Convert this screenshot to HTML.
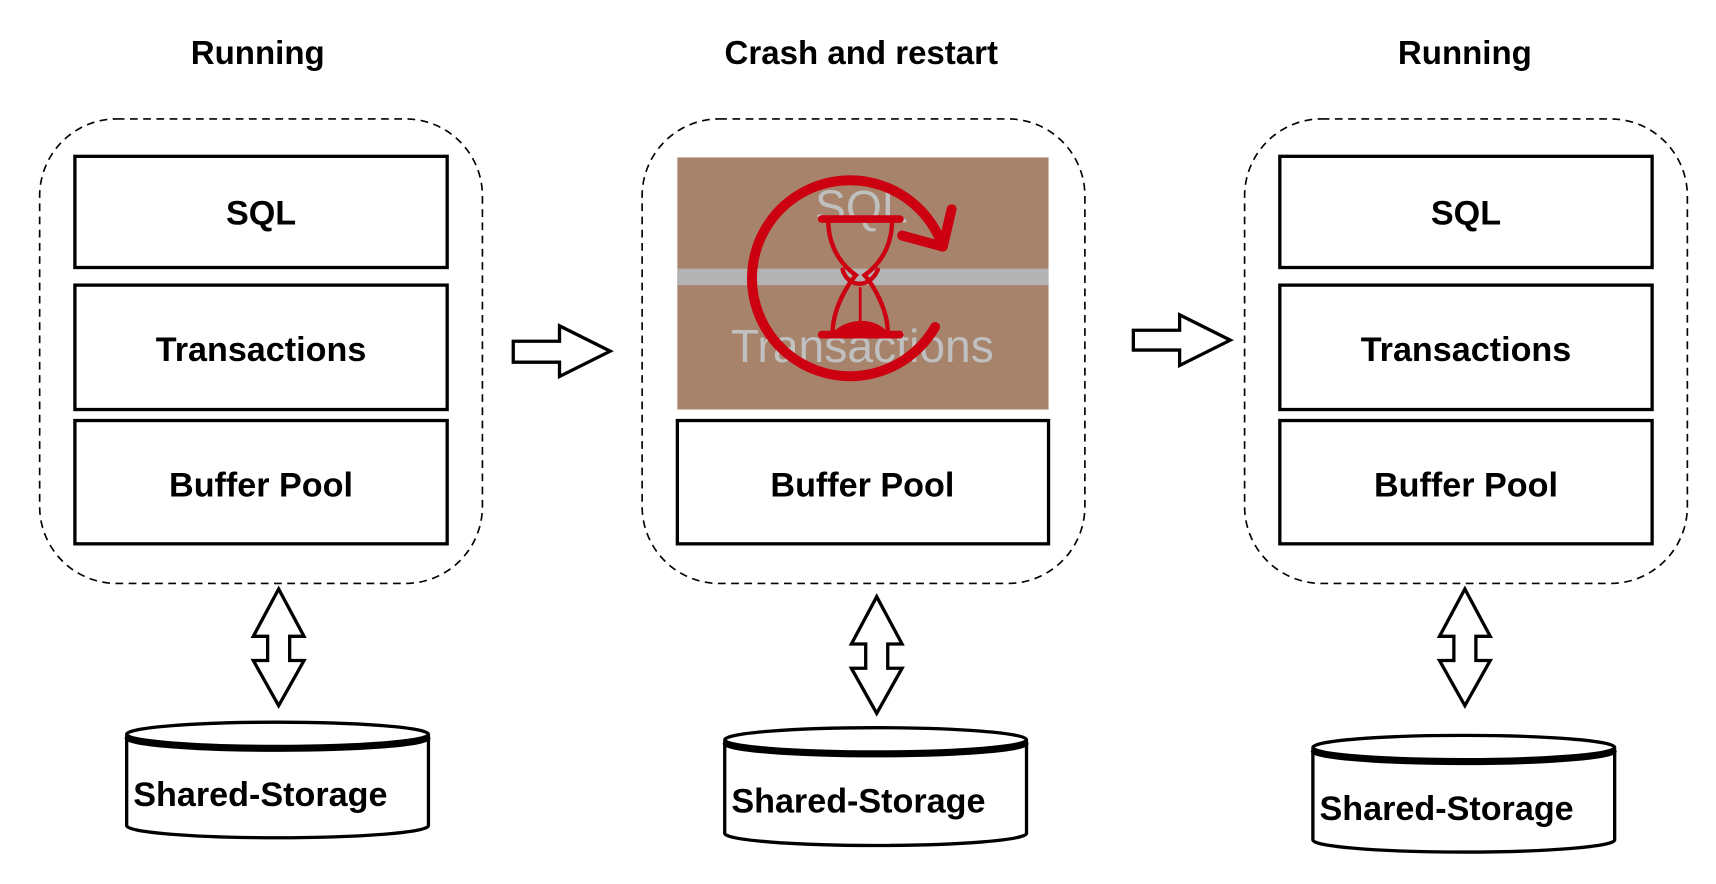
<!DOCTYPE html>
<html><head><meta charset="utf-8"><style>
html,body{margin:0;padding:0;background:#fff;width:1716px;height:884px;overflow:hidden}
svg{display:block}
text{font-family:"Liberation Sans",Arial,sans-serif}
</style></head><body>
<svg width="1716" height="884" viewBox="0 0 1558 803" preserveAspectRatio="none" xmlns="http://www.w3.org/2000/svg">
<g font-weight="bold" font-size="30" text-anchor="middle" fill="#000">
<text x="234" y="58">Running</text>
<text x="782" y="58">Crash and restart</text>
<text x="1330" y="58">Running</text>
</g>
<g fill="none" stroke="#000" stroke-width="1.5" stroke-dasharray="7,5">
<rect x="36" y="108" width="402" height="422" rx="70"/>
<rect x="583" y="108" width="402" height="422" rx="70"/>
<rect x="1130" y="108" width="402" height="422" rx="70"/>
</g>
<g fill="#fff" stroke="#000" stroke-width="3">
<rect x="68" y="142" width="338" height="101"/>
<rect x="68" y="259" width="338" height="113"/>
<rect x="68" y="382" width="338" height="112"/>
<rect x="615" y="382" width="337" height="112"/>
<rect x="1162" y="142" width="338" height="101"/>
<rect x="1162" y="259" width="338" height="113"/>
<rect x="1162" y="382" width="338" height="112"/>
</g>
<g font-weight="bold" font-size="31" text-anchor="middle">
<text x="237" y="204">SQL</text>
<text x="237" y="328">Transactions</text>
<text x="237" y="451">Buffer Pool</text>
<text x="783" y="451">Buffer Pool</text>
<text x="1331" y="204">SQL</text>
<text x="1331" y="328">Transactions</text>
<text x="1331" y="451">Buffer Pool</text>
</g>
<rect x="615" y="143" width="337" height="229" fill="#a6836a"/>
<rect x="615" y="244" width="337" height="15" fill="#b3b3b3"/>
<g fill="#c0c0c0" font-size="42" text-anchor="middle">
<text x="782" y="202">SQL</text>
<text x="783" y="329">Transactions</text>
</g>
<g fill="none" stroke="#cc0011" stroke-width="9" stroke-linecap="round" stroke-linejoin="round">
<path d="M849 297 A89 89 0 1 1 856 224"/>
<path d="M864 190 L856 224 L819 214"/>
</g>
<g fill="none" stroke="#cc0011" stroke-linecap="round">
<line x1="746" y1="199" x2="817" y2="199" stroke-width="7"/>
<line x1="746" y1="304" x2="817" y2="304" stroke-width="7"/>
<path d="M752 200 C752 230 770 245 777 250 C770 258 756 280 756 302 M810 200 C810 230 792 245 785 250 C792 258 806 280 806 302" stroke-width="4"/>
<path d="M765 245 C770 262 790 262 797 245" stroke-width="4"/>
<line x1="781" y1="262" x2="781" y2="292" stroke-width="2.5"/>
</g>
<path d="M756 302 C770 288 795 288 806 302 Z" fill="#cc0011"/>
<g fill="#fff" stroke="#000" stroke-width="3" stroke-linejoin="miter">
<path d="M466 310 L508 310 L508 296 L554 319 L508 342 L508 329 L466 329 Z"/>
<path d="M1029 300 L1071 300 L1071 286 L1117 309 L1071 332 L1071 318 L1029 318 Z"/>
<path d="M253 535 L276 578 L263 578 L263 600 L276 600 L253 641 L230 600 L243 600 L243 578 L230 578 Z"/>
<path d="M796 542 L819 585 L806 585 L806 607 L819 607 L796 648 L773 607 L786 607 L786 585 L773 585 Z"/>
<path d="M1330 535 L1353 578 L1340 578 L1340 600 L1353 600 L1330 641 L1307 600 L1320 600 L1320 578 L1307 578 Z"/>
</g>
<g fill="#fff" stroke="#000" stroke-width="3">
<path d="M115 668 L115 750 A137 11 0 0 0 389 750 L389 668"/>
<ellipse cx="252" cy="667" rx="137" ry="11"/>
<path d="M658 673 L658 757 A137 11 0 0 0 932 757 L932 673"/>
<ellipse cx="795" cy="672" rx="137" ry="11"/>
<path d="M1192 680 L1192 763 A137 11 0 0 0 1466 763 L1466 680"/>
<ellipse cx="1329" cy="679" rx="137" ry="11"/>
</g>
<g fill="none" stroke="#000" stroke-width="4">
<path d="M115 670 A137 11 0 0 0 389 670"/>
<path d="M658 675 A137 11 0 0 0 932 675"/>
<path d="M1192 682 A137 11 0 0 0 1466 682"/>
</g>
<g font-weight="bold" font-size="31">
<text x="121" y="732">Shared-Storage</text>
<text x="664" y="738">Shared-Storage</text>
<text x="1198" y="745">Shared-Storage</text>
</g>
</svg>
</body></html>
